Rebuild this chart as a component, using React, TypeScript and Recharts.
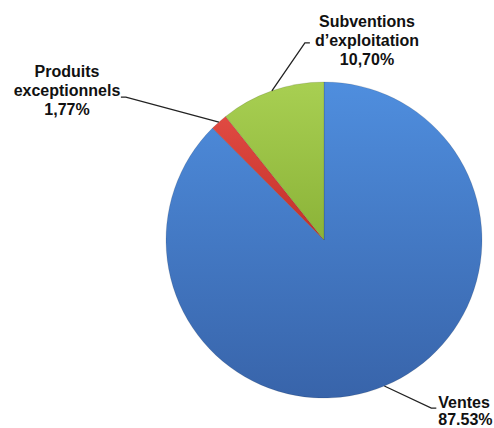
import React from "react";
import { PieChart, Pie, Cell } from "recharts";

const categories = ["Ventes", "Produits exceptionnels", "Subventions d'exploitation"];
const values = [87.53, 1.77, 10.7];
const valueLabels = ["87.53%", "1,77%", "10,70%"];
const labelLines = [["Ventes"], ["Produits", "exceptionnels"], ["Subventions", "d\u2019exploitation"]];

const data = categories.map((name, i) => ({ name, value: values[i] }));

const gradients = [
  { id: "gBlue", top: "#4f8ede", bottom: "#3864aa" },
  { id: "gRed", top: "#e04a42", bottom: "#c2302a" },
  { id: "gGreen", top: "#a8cf52", bottom: "#8bb338" },
];

const RAD = Math.PI / 180;

const renderLabel = (props: any) => {
  const { cx, cy, midAngle, outerRadius, index } = props;
  const ex = cx + outerRadius * Math.cos(-midAngle * RAD);
  const ey = cy + outerRadius * Math.sin(-midAngle * RAD);
  const font = { fontFamily: "Liberation Sans, Arial, sans-serif", fontWeight: 700, fontSize: 16, fill: "#111" };
  if (index === 0) {
    const bx = ex + 47, by = ey + 22;
    return (
      <g key="l0">
        <polyline points={`${ex},${ey} ${bx},${by} ${bx + 5},${by}`} fill="none" stroke="#222" strokeWidth={1.3} />
        <text x={bx + 7} y={by} textAnchor="start" {...font}>
          <tspan x={bx + 7} dy={0}>{labelLines[0][0]}</tspan>
          <tspan x={bx + 7} dy={17}>{valueLabels[0]}</tspan>
        </text>
      </g>
    );
  }
  if (index === 1) {
    const bx = ex - 93, by = ey - 25;
    const tx = 67;
    return (
      <g key="l1">
        <polyline points={`${ex},${ey} ${bx},${by} ${bx - 5},${by}`} fill="none" stroke="#222" strokeWidth={1.3} />
        <text x={tx} y={77} textAnchor="middle" {...font}>
          <tspan x={tx} dy={0}>{labelLines[1][0]}</tspan>
          <tspan x={tx} dy={19}>{labelLines[1][1]}</tspan>
          <tspan x={tx} dy={19}>{valueLabels[1]}</tspan>
        </text>
      </g>
    );
  }
  const bx = ex + 33, by = ey - 48;
  const tx = 367;
  return (
    <g key="l2">
      <polyline points={`${ex},${ey} ${bx},${by} ${bx + 5},${by}`} fill="none" stroke="#222" strokeWidth={1.3} />
      <text x={tx} y={27} textAnchor="middle" {...font}>
        <tspan x={tx} dy={0}>{labelLines[2][0]}</tspan>
        <tspan x={tx} dy={19}>{labelLines[2][1]}</tspan>
        <tspan x={tx} dy={19}>{valueLabels[2]}</tspan>
      </text>
    </g>
  );
};

export default function App() {
  return (
    <div style={{ position: "absolute", left: 0, top: 0, width: 494, height: 428, background: "#fff" }}>
      <PieChart width={494} height={428} margin={{ top: 0, right: 0, bottom: 0, left: 0 }}>
        <defs>
          {gradients.map((g) => (
            <linearGradient key={g.id} id={g.id} x1="0" y1="0" x2="0" y2="1">
              <stop offset="0%" stopColor={g.top} />
              <stop offset="100%" stopColor={g.bottom} />
            </linearGradient>
          ))}
        </defs>
        <Pie
          data={data}
          dataKey="value"
          nameKey="name"
          cx={324}
          cy={240}
          outerRadius={158}
          startAngle={90}
          endAngle={-270}
          stroke="rgba(0,0,0,0.15)"
          strokeWidth={0.8}
          isAnimationActive={false}
          labelLine={false}
          label={renderLabel}
        >
          {data.map((d, i) => (
            <Cell key={d.name} fill={`url(#${gradients[i].id})`} />
          ))}
        </Pie>
      </PieChart>
    </div>
  );
}
